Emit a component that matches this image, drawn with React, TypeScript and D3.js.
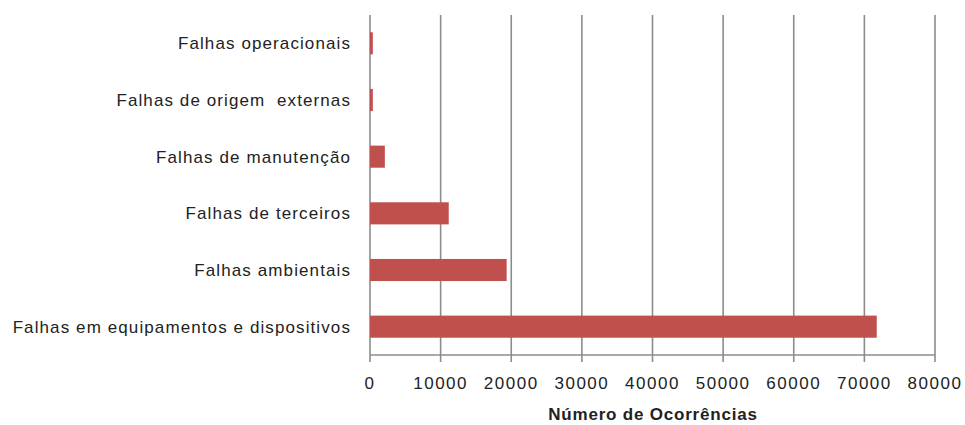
import React from "react";
import * as d3 from "d3";

const categories = [
  "Falhas operacionais",
  "Falhas de origem  externas",
  "Falhas de manutenção",
  "Falhas de terceiros",
  "Falhas ambientais",
  "Falhas em equipamentos e dispositivos",
];
const values = [400, 400, 2100, 11150, 19350, 71750];
const xTicks = [0, 10000, 20000, 30000, 40000, 50000, 60000, 70000, 80000];
const xTitle = "Número de Ocorrências";

export default function App() {
  const W = 965, H = 425;
  const left = 370, right = 935, top = 15, bottom = 355;
  const x = d3.scaleLinear().domain([0, 80000]).range([left, right]);
  const y = d3.scaleBand().domain(categories).range([top, bottom]).paddingInner(0.61).paddingOuter(0.305);
  const font = "'Liberation Sans', Arial, sans-serif";
  return (
    <svg width={W} height={H} style={{ position: "absolute", left: 0, top: 0, background: "#fff" }}>
      {xTicks.map((t) => (
        <line key={"g" + t} x1={x(t)} x2={x(t)} y1={top} y2={bottom + 7} stroke="#8c8c8c" strokeWidth={1.6} />
      ))}
      <line x1={left} x2={right} y1={bottom} y2={bottom} stroke="#8c8c8c" strokeWidth={1.6} />
      {categories.map((c, i) => (
        <rect key={c} x={x(0)} y={y(c)} width={x(values[i]) - x(0)} height={y.bandwidth()} fill="#C0504D" />
      ))}
      {categories.map((c) => (
        <text key={"l" + c} x={351} y={(y(c) as number) + y.bandwidth() / 2} dy="0.35em" textAnchor="end"
          fontFamily={font} fontSize={17} letterSpacing={1.1} fill="#222" style={{ whiteSpace: "pre" }}>
          {c}
        </text>
      ))}
      {xTicks.map((t) => (
        <text key={"t" + t} x={x(t)} y={389} textAnchor="middle" fontFamily={font} fontSize={17} letterSpacing={1.5} fill="#222">
          {t}
        </text>
      ))}
      <text x={653} y={420} textAnchor="middle" fontFamily={font} fontSize={17} fontWeight="bold" letterSpacing={0.8} fill="#222">
        {xTitle}
      </text>
    </svg>
  );
}
